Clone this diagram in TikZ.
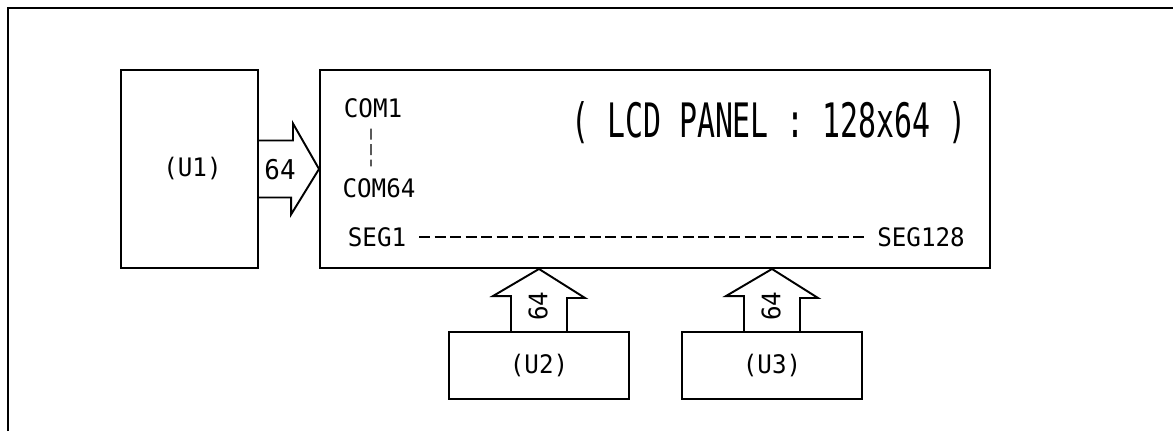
\documentclass[tikz,border=0pt]{standalone}
\usepackage{fontspec}
\setmainfont{DejaVu Sans Mono}[FakeStretch=0.95]
\newfontfamily\titlefont{DejaVu Sans Mono}[FakeStretch=0.63]
\usepackage{tikz}
\usetikzlibrary{calc,positioning}

\begin{document}
\begin{tikzpicture}[line width=1.1pt,
    blk/.style={draw,inner sep=0pt},
    bus/.style={draw,line join=miter},
    lbl/.style={inner sep=0pt,font=\fontsize{14.5}{16}\selectfont},
    dots/.style={line width=0.8pt,dash pattern=on 0.22cm off 0.09cm}]
        \useasboundingbox (0,0) rectangle (23.46,-8.62);
        \draw (0.16,-8.62)--(0.16,-0.16)--(23.46,-0.16);
        % chips and panel
        \node[blk,minimum width=2.74cm,minimum height=3.96cm] (u1) at (3.79,-3.38) {};
        \node[blk,minimum width=13.40cm,minimum height=3.96cm] (lcd) at (13.10,-3.38) {};
        \node[blk,minimum width=3.60cm,minimum height=1.34cm] (u2) at (10.78,-7.31) {};
        \node[blk,minimum width=3.60cm,minimum height=1.34cm] (u3) at (15.44,-7.31) {};
        \node[lbl] (u1t) at (3.85,-3.38) {(U1)};
        \node[lbl] (u2t) at (u2) {(U2)};
        \node[lbl] (u3t) at (u3) {(U3)};
        % bus arrows
        \draw[bus] ($(u1.east)+(0,.57)$) -- ++(.68,0) -- ++(0,.34) -- (u1.east -| lcd.west) -- ++(-.56,-.91) -- ++(0,.34) -- ($(u1.east)+(0,-.57)$);
        \draw[bus] ($(u2.north)+(-.56,0)$) -- ++(0,.70) -- ++(-.36,0) -- (u2.north |- lcd.south) -- ++(.92,-.58) -- ++(-.36,0) -- ($(u2.north)+(.56,0)$);
        \draw[bus] ($(u3.north)+(-.56,0)$) -- ++(0,.70) -- ++(-.36,0) -- (u3.north |- lcd.south) -- ++(.92,-.58) -- ++(-.36,0) -- ($(u3.north)+(.56,0)$);
        \node[lbl,font=\fontsize{15.5}{17}\selectfont] (w1) at (5.60,-3.40) {64};
        \node[lbl,rotate=90] (w2) at (10.76,-6.12) {64};
        \node[lbl,rotate=90] (w3) at (15.42,-6.12) {64};
        % panel texts
        \node[lbl,font=\fontsize{27}{29}\titlefont] (title) at (15.38,-2.46) {( LCD PANEL : 128x64 )};
        \node[lbl] (com1) at (7.46,-2.16) {COM1};
        \node[lbl] (com64) at (7.58,-3.76) {COM64};
        \node[lbl] (seg1) at (7.54,-4.74) {SEG1};
        \node[lbl] (seg128) at (18.42,-4.74) {SEG128};
        \draw[dots] ($(com1.south)+(-.04,-.2)$) -- ($(com64.north)+(-.16,.22)$);
        \draw[dots] ($(seg1.east)+(.24,0)$) -- ($(seg128.west)+(-.24,0)$);
      \end{tikzpicture}
\end{document}
